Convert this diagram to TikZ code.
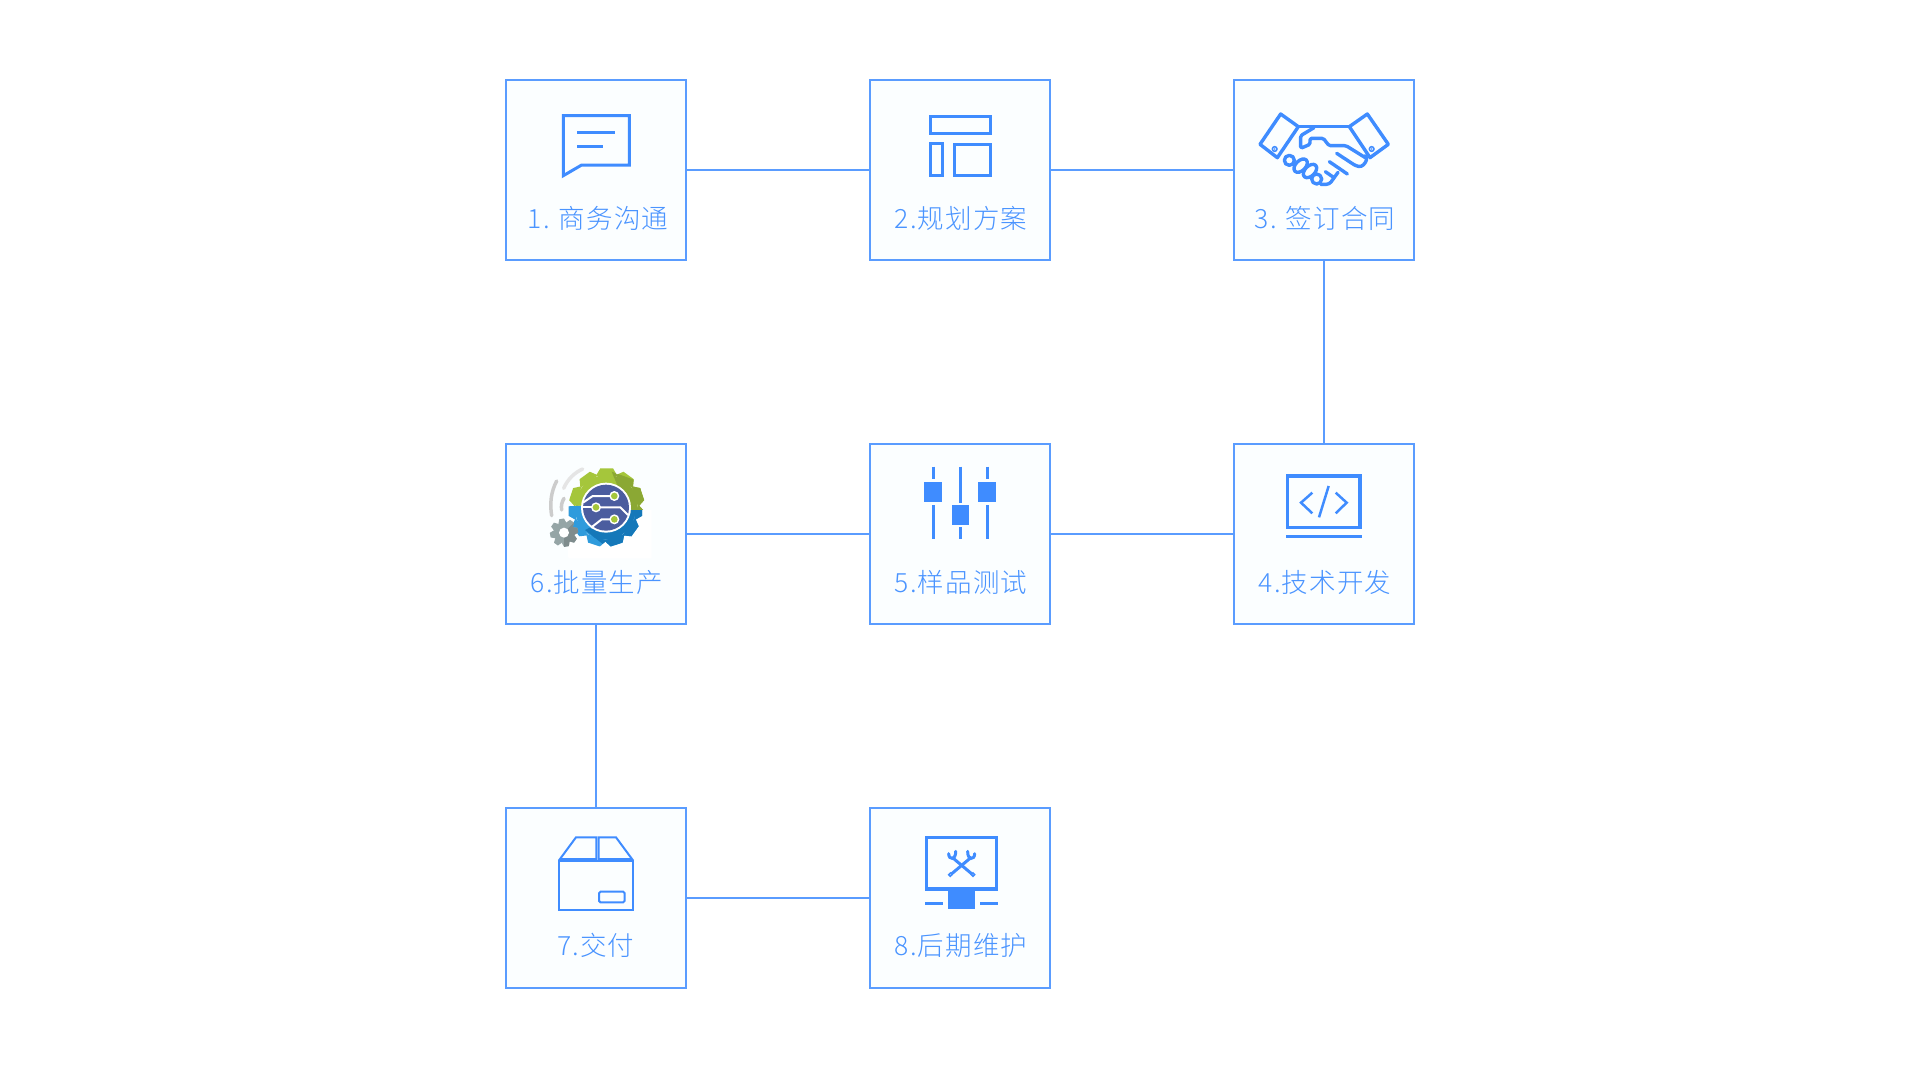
\documentclass[tikz,border=0pt]{standalone}
\usepackage{fontspec}
\newfontfamily\cjk[LetterSpace=4]{Noto Sans CJK SC Light}
\definecolor{bl}{HTML}{3F8CFF}
\definecolor{bx}{HTML}{5A9CFF}
\definecolor{tx}{HTML}{4A94FF}
\definecolor{pale}{HTML}{FBFEFF}
\definecolor{gearG}{HTML}{A5C63B}
\definecolor{gearGd}{HTML}{8BA834}
\definecolor{gearB}{HTML}{2F9BDC}
\definecolor{gearBd}{HTML}{1578B9}
\definecolor{gearN}{HTML}{4B5D9F}
\definecolor{gearY}{HTML}{95A5A6}
\definecolor{gearYd}{HTML}{7F8C8D}
\newcommand{\gearshape}[7]{% color,cx,cy,rout,rin,n,offset
  \fill[#1] (#2,#3) circle (#5);
  \pgfmathsetmacro{\gstep}{360/#6}
  \foreach \gi in {1,...,#6}{
    \pgfmathsetmacro{\ga}{#7+\gi*\gstep}
    \fill[#1,rotate around={\ga:(#2,#3)}] (#2-#4*.29,#3-#5+3) -- (#2-#4*.17,#3-#4) -- (#2+#4*.17,#3-#4) -- (#2+#4*.29,#3-#5+3) -- cycle;
  }}
\tikzset{
  boxnode/.style={draw=bx,fill=pale,line width=2pt,minimum size=180pt,inner sep=0pt,outer sep=0pt},
  lab/.style={font=\cjk\fontsize{26.5pt}{26.5pt}\selectfont,text=tx,inner sep=0pt},
  conn/.style={draw=bx,line width=2pt},
  ic/.style={draw=bl,line width=3pt,line join=miter},
  icf/.style={fill=bl},
  zm/.style={x=.33333pt,y=-.33333pt}
}
\begin{document}
\begin{tikzpicture}[x=1pt,y=-1pt]
\useasboundingbox (0,0) rectangle (1920,1068);
\fill[white] (0,0) rectangle (1920,1068);
\node[boxnode] (b1) at (596,170) {};
\node[boxnode] (b2) at (960,170) {};
\node[boxnode] (b3) at (1324,170) {};
\node[boxnode] (b4) at (1324,534) {};
\node[boxnode] (b5) at (960,534) {};
\node[boxnode] (b6) at (596,534) {};
\node[boxnode] (b7) at (596,898) {};
\node[boxnode] (b8) at (960,898) {};
\draw[conn] (b1) -- (b2);
\draw[conn] (b2) -- (b3);
\draw[conn] (b3) -- (b4);
\draw[conn] (b4) -- (b5);
\draw[conn] (b5) -- (b6);
\draw[conn] (b6) -- (b7);
\draw[conn] (b7) -- (b8);
\node[lab] (t1) at (598,218) {1. 商务沟通};
\node[lab] (t2) at (961,218) {2.规划方案};
\node[lab] (t3) at (1325,218) {3. 签订合同};
\node[lab] (t4) at (1325,582) {4.技术开发};
\node[lab] (t5) at (961,582) {5.样品测试};
\node[lab] (t6) at (597,582) {6.批量生产};
\node[lab] (t7) at (596,945) {7.交付};
\node[lab] (t8) at (961,945) {8.后期维护};
% icon 1
\begin{scope}[shift={(500,70)},zm]
\draw[ic] (190,137) -- (388,137) -- (388,285) -- (245,285) -- (190,317) -- cycle;
\draw[ic] (232,188) -- (345,188);
\draw[ic] (232,230) -- (310,230);
\end{scope}
% icon 2
\begin{scope}[shift={(920,105)},zm]
\draw[ic] (30,33) rectangle (212,85);
\draw[ic] (30,116) rectangle (68,210);
\draw[ic] (102,118) rectangle (212,210);
\end{scope}
% icon 3
\begin{scope}[shift={(1260,105)},zm]
\begin{scope}[ic,line width=3.4pt,line join=round,line cap=round]
\draw (62,27) -- (115,65) -- (52,158) -- (0,118) -- cycle;
\draw (322,27) -- (268,65) -- (330,158) -- (385,118) -- cycle;
\draw (115,65) -- (268,65);
\draw[rounded corners=1.5pt] (162,68) -- (122,92) -- (122,130) -- (150,118) -- (150,100) -- (190,100) -- (207,122) -- (258,122) -- (316,158);
\draw[rounded corners=3pt] (316,152) -- (322,165) -- (305,186) -- (288,183) -- (230,145);
\draw (208,170) -- (262,207);
\draw (196,200) -- (222,218);
\draw[rounded corners=3pt] (234,202) -- (208,238) -- (182,238);
\draw (88,166) circle (15);
\draw[rotate around={45:(122,182)}] (122,182) ellipse (24 and 15);
\draw[rotate around={45:(150,198)}] (150,198) ellipse (24 and 15);
\draw (170,222) circle (15);
\end{scope}
\draw[ic,line width=1.5pt] (44,132) circle (7);
\draw[ic,line width=1.5pt] (335,132) circle (7);
\fill[bl] (44,132) circle (2.5);
\fill[bl] (335,132) circle (2.5);
\end{scope}
% icon 4
\begin{scope}[shift={(1230,440)},zm]
\draw[ic,line width=3.5pt] (173,108) rectangle (390,262);
\draw[ic,line width=3.5pt] (168,289) -- (396,289);
\draw[ic,line width=2.5pt] (247,158) -- (213,188) -- (247,220);
\draw[ic,line width=2.5pt] (317,158) -- (350,188) -- (317,220);
\draw[ic,line width=2.5pt] (296,138) -- (267,232);
\end{scope}
% icon 5
\begin{scope}[shift={(860,440)},zm]
\draw[ic] (219,80) -- (219,118);
\draw[ic] (219,196) -- (219,296);
\draw[ic] (300,80) -- (300,188);
\draw[ic] (300,262) -- (300,298);
\draw[ic] (381,80) -- (381,118);
\draw[ic] (381,196) -- (381,296);
\fill[icf] (193,125) rectangle (245,187);
\fill[icf] (275,194) rectangle (326,256);
\fill[icf] (355,125) rectangle (407,187);
\end{scope}
% icon 6
\begin{scope}[shift={(545,465)},zm]
\draw[line width=3.5pt,draw=black!10,line cap=round] (113,12) .. controls (90,22) and (68,42) .. (56,70);
\draw[line width=3.5pt,draw=black!20,line cap=round] (35,48) .. controls (18,80) and (14,115) .. (20,152);
\draw[line width=3.5pt,draw=black!20,line cap=round] (57,100) .. controls (50,112) and (48,122) .. (50,135);
\gearshape{gearG}{185}{122}{112}{92}{10}{0}
\begin{scope}
\clip (200,20) -- (310,60) -- (300,140) -- (250,140) -- cycle;
\gearshape{gearGd}{185}{122}{112}{92}{10}{0}
\end{scope}
\begin{scope}
\clip (40,125) -- (120,122) -- (260,135) -- (320,135) -- (320,280) -- (40,280) -- cycle;
\fill[white] (60,125) -- (120,122) -- (260,135) -- (320,135) -- (320,280) -- (70,280) -- cycle;
\gearshape{gearB}{181}{134}{110}{90}{10}{18}
\begin{scope}
\clip (120,195) -- (190,250) -- (320,250) -- (320,130) -- (250,130) -- cycle;
\gearshape{gearBd}{181}{134}{110}{90}{10}{18}
\end{scope}
\end{scope}
\gearshape{gearY}{57}{203}{42}{31}{8}{10}
\begin{scope}
\clip (57,203) -- (100,160) -- (110,250) -- (57,250) -- cycle;
\gearshape{gearYd}{57}{203}{42}{31}{8}{10}
\end{scope}
\fill[white] (57,203) circle (15);
\fill[white] (183,128) circle (75);
\fill[gearN] (183,128) circle (69);
\begin{scope}[line width=2pt,draw=white]
\draw (195,93) -- (143,93) -- (114,113);
\draw (153,127) -- (226,127) -- (249,150);
\draw (195,163) -- (170,163) -- (138,188);
\draw (153,127) -- (112,127);
\end{scope}
\foreach \p in {(208,93),(153,127),(208,163)}{
\fill[white] \p circle (15);
\fill[gearG] \p circle (10);
}
\end{scope}
% icon 7
\begin{scope}[shift={(500,805)},zm]
\draw[ic,line width=2pt] (177,168) rectangle (398,316);
\draw[ic,line width=2pt] (180,162) -- (228,97) -- (289,97) -- (289,162) -- cycle;
\draw[ic,line width=2pt] (296,162) -- (296,97) -- (348,97) -- (396,162) -- cycle;
\draw[ic,line width=2pt,rounded corners=1.5pt] (297,260) rectangle (374,292);
\end{scope}
% icon 8
\begin{scope}[shift={(860,805)},zm]
\draw[ic,line width=3.5pt] (200,97) rectangle (410,252);
\fill[icf] (265,252) rectangle (346,313);
\draw[ic] (196,296) -- (250,296);
\draw[ic] (360,296) -- (415,296);
\draw[ic,line width=3pt] (280,160) -- (337,208);
\draw[ic,line width=3pt] (330,160) -- (273,208);
\draw[ic,line width=3pt,line cap=round] (266,146) .. controls (266,166) and (288,166) .. (287,139);
\draw[ic,line width=3pt,line cap=round] (344,146) .. controls (344,166) and (322,166) .. (323,139);
\draw[ic,line width=1.5pt,fill=white] (271,209) circle (5);
\draw[ic,line width=1.5pt,fill=white] (339,209) circle (5);
\end{scope}
\end{tikzpicture}
\end{document}
